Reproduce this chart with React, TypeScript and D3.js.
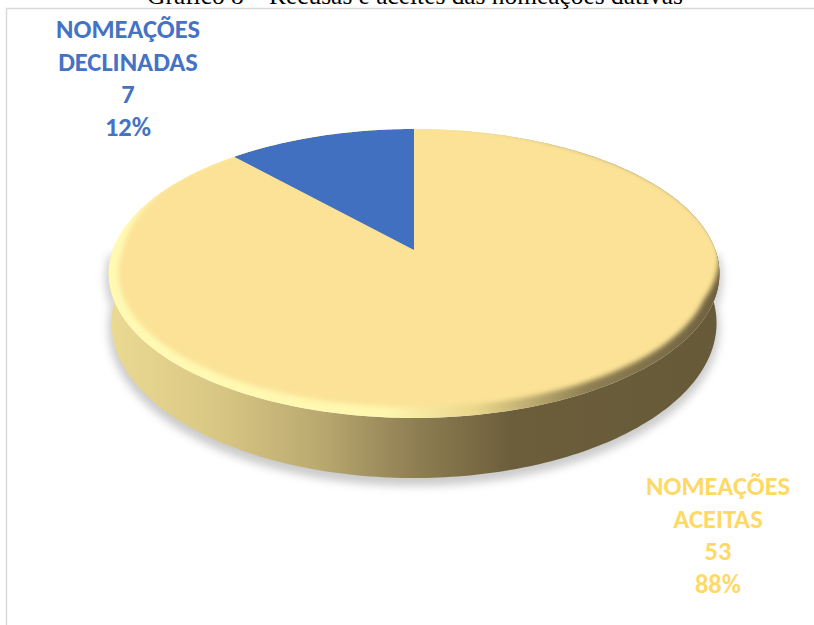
import React from 'react'
import * as d3 from 'd3'

const categories = ['NOMEAÇÕES DECLINADAS', 'NOMEAÇÕES ACEITAS']
const values = [7, 53]
const percents = ['12%', '88%']
const labelLines = [['NOMEAÇÕES', 'DECLINADAS'], ['NOMEAÇÕES', 'ACEITAS']]
const colors = ['#4070BF', '#FBE296']
const labelColors = ['#4472C4', '#FFD966']

const width = 814
const height = 625
const title = 'Gráfico 8 – Recusas e aceites das nomeações dativas'

// the disc is seen in perspective, so the unit circle goes through a projective map
const tilt = -0.1626
const project = (a: number, cx: number, R: number, cy: number, k: number) => {
    const u = Math.sin(a)
    const v = -Math.cos(a)
    const w = tilt * v + 1
    return [cx + (R * u) / w, (k * v + cy) / w] as [number, number]
}
const top = (a: number) => project(a, 414, 301.4, 250, 100)
const bottom = (a: number) => project(a, 414, 298.5, 297.8, 102.5)

// the flat part of the top: same as the rim above, pulled in towards the front.
// the pull starts lower on the dark right side than on the light left side
const face = (a: number) => {
    const [x, y] = top(a)
    const v = -Math.cos(a)
    const right = Math.sin(a) > 0
    const t = right
        ? Math.max(0, Math.min(1, (v - 0.02) / 0.33))
        : Math.max(0, Math.min(1, (v + 0.5) / 0.5))
    return [414 + (x - 414) * (1.01 - 0.043 * t), 273.5 + (y - 273.5) * (1.01 - 0.085 * t)] as [number, number]
}

const line = d3.line()
const angles = (a0: number, a1: number) => d3.range(0, 181).map(i => a0 + ((a1 - a0) * i) / 180)

const wallStops: [number, string][] = [
    [0, '#EBDA92'],
    [0.18, '#D8C684'],
    [0.34, '#BBAA70'],
    [0.5, '#8F7F53'],
    [0.66, '#6C5E3B'],
    [1, '#665A38'],
]

const App = () => {
    const start = -(values[0] / d3.sum(values)) * 2 * Math.PI
    const arcs = d3.pie<number>().sort(null).startAngle(start).endAngle(start + 2 * Math.PI)(values)
    const rim = line(angles(0, 2 * Math.PI).map(top)) + 'Z'
    const inner = line(angles(0, 2 * Math.PI).map(face)) + 'Z'
    // the side: front half of the lower circle, closed over the top circle
    const wall = line([
        ...angles(Math.PI / 2, (3 * Math.PI) / 2).map(bottom),
        ...angles((3 * Math.PI) / 2, Math.PI / 2).map(top),
    ]) + 'Z'
    const blue = arcs[0]
    const wedge = line([[414, 250], ...angles(blue.startAngle, blue.endAngle).map(top)]) + 'Z'

    return (
        <svg width={width} height={height} viewBox={`0 0 ${width} ${height}`} style={{ position: 'absolute', left: 0, top: 0, display: 'block', background: '#fff' }}>
            <defs>
                <linearGradient id="wallFill" gradientUnits="userSpaceOnUse" x1={110} x2={718} y1={0} y2={0}>
                    {wallStops.map(([o, c]) => <stop key={o} offset={o} stopColor={c} />)}
                </linearGradient>
                <linearGradient id="rimFill" gradientUnits="userSpaceOnUse" x1={110} x2={720} y1={0} y2={0}>
                    <stop offset={0} stopColor="#FFF9B4" />
                    <stop offset={0.45} stopColor="#FFF7AE" />
                    <stop offset={0.6} stopColor="#E9D68C" />
                    <stop offset={0.78} stopColor="#8F7F53" />
                    <stop offset={1} stopColor="#6F6140" />
                </linearGradient>
                <filter id="soft" x="-10%" y="-10%" width="120%" height="120%">
                    <feGaussianBlur stdDeviation={4} />
                </filter>
                <filter id="bevel" x="-5%" y="-5%" width="110%" height="110%">
                    <feGaussianBlur stdDeviation={2.5} />
                </filter>
                <clipPath id="topClip"><path d={rim} /></clipPath>
            </defs>

            <rect x={6.5} y={8.5} width={width} height={height} fill="none" stroke="#D9D9D9" strokeWidth={1.5} />
            <text x={415} y={3.5} textAnchor="middle" fontFamily="'Liberation Serif', serif" fontSize={25.4} fill="#000">{title}</text>

            <path d={wall} fill="#B5B5B5" stroke="#B5B5B5" strokeWidth={6} opacity={0.7} filter="url(#soft)" transform="translate(0 5)" />
            <path d={wall} fill="url(#wallFill)" />

            <path d={rim} fill="url(#rimFill)" />
            <g clipPath="url(#topClip)">
                <path d={inner} fill={colors[1]} filter="url(#bevel)" />
                <path d={wedge} fill={colors[0]} />
            </g>

            {arcs.map((arc, i) => {
                const cx = i === 0 ? 128 : 718
                const y0 = i === 0 ? 38 : 495
                const rows = [...labelLines[i], String(values[i]), percents[i]]
                return (
                    <g key={categories[i]} textAnchor="middle" fontFamily="Carlito, Lato, sans-serif" fontWeight={700} fontSize={26.5} fill={labelColors[i]}>
                        {rows.map((row, j) => <text key={j} x={cx} y={y0 + j * 32.6}>{row}</text>)}
                    </g>
                )
            })}
        </svg>
    )
}

export default App
